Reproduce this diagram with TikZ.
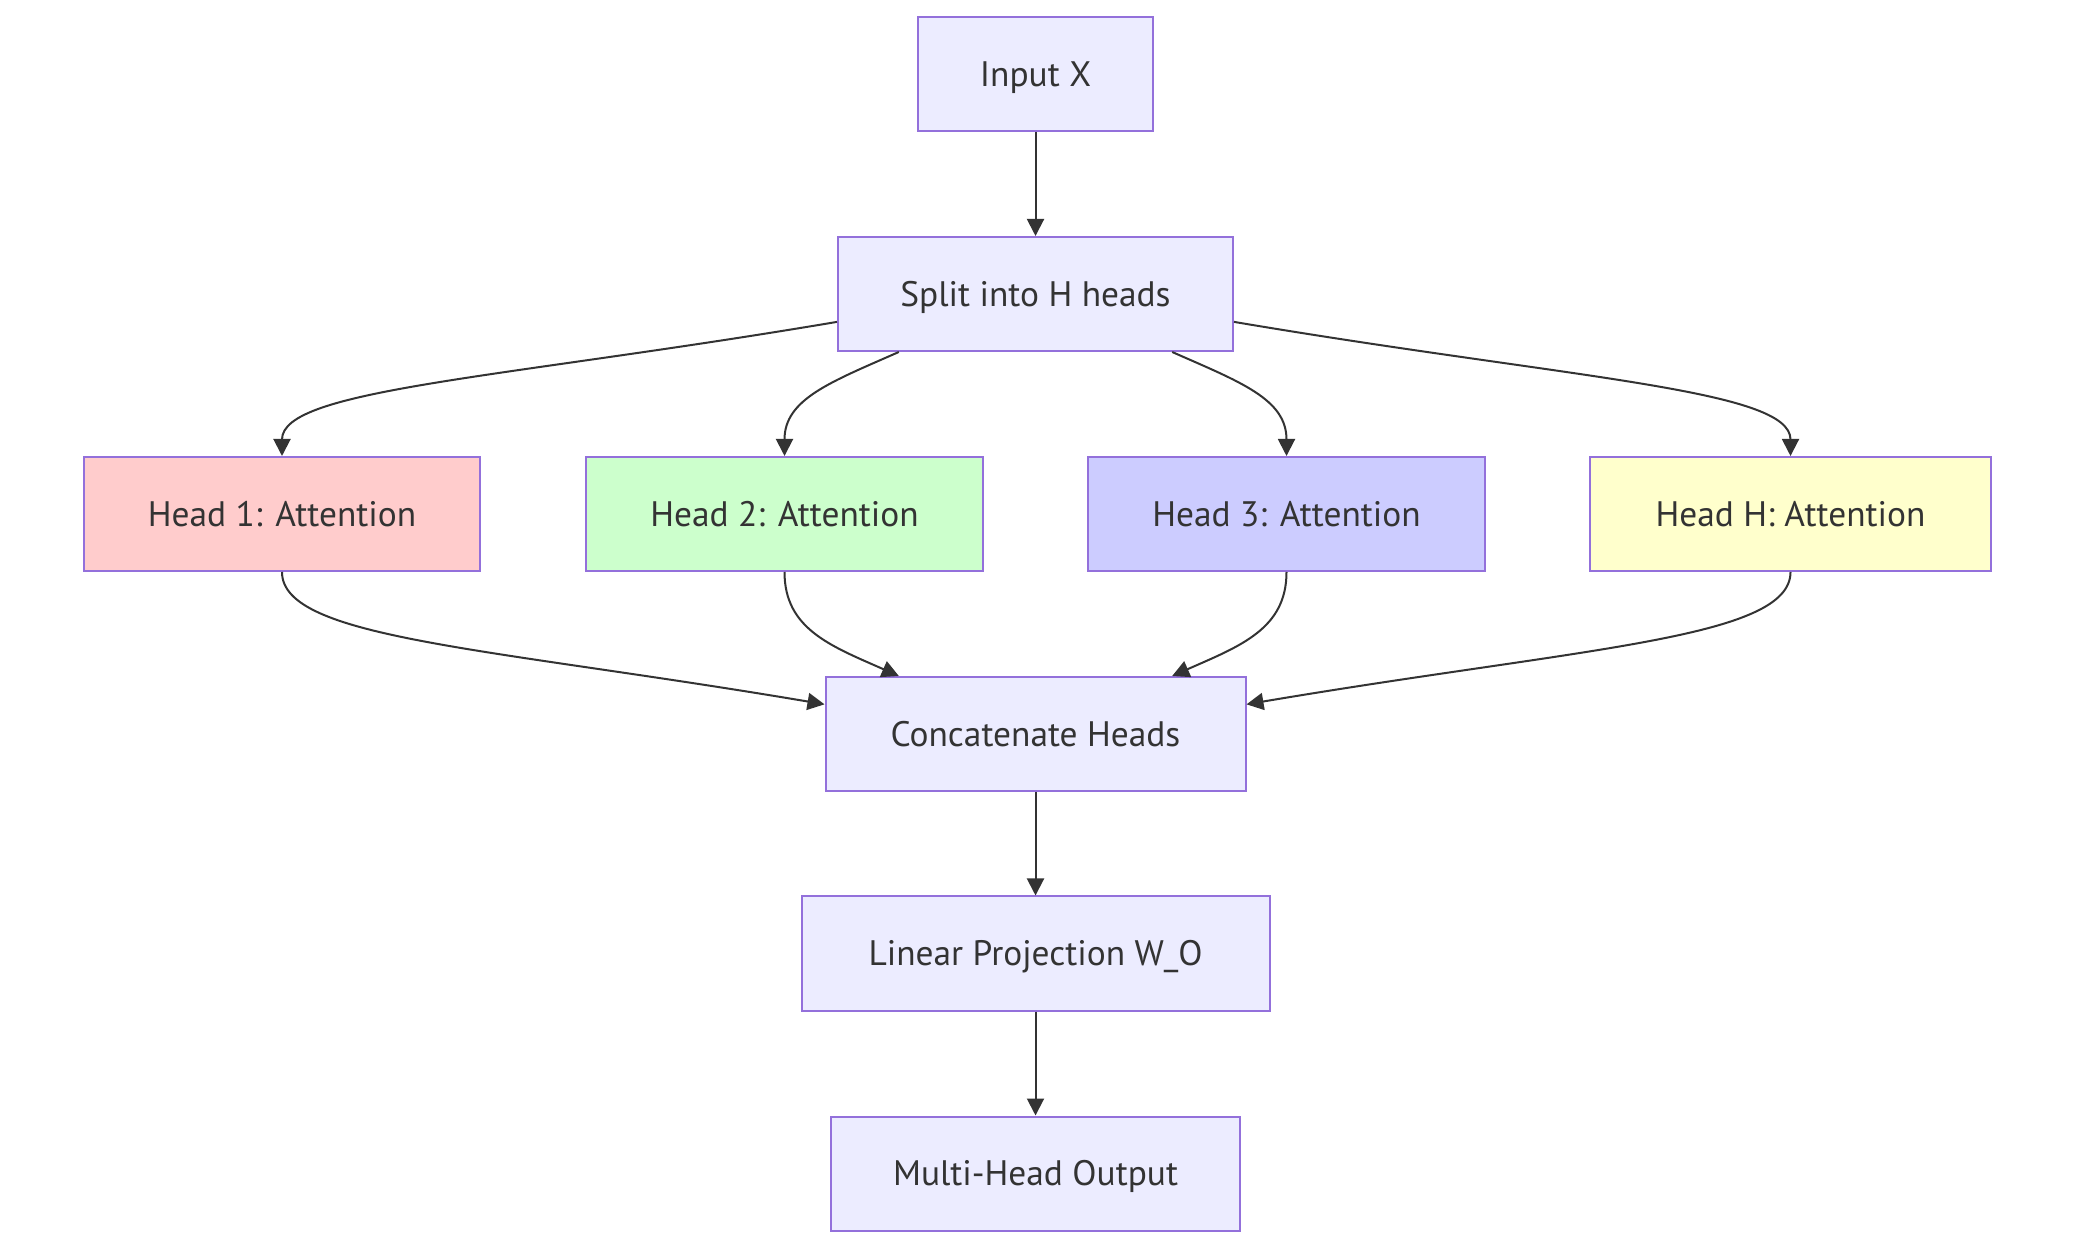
\documentclass[tikz,border=0pt]{standalone}
\usepackage{fontspec}
\setmainfont{PT Sans}
\usetikzlibrary{arrows.meta}
\definecolor{boxfill}{HTML}{ECECFF}
\definecolor{boxline}{HTML}{9370DB}
\definecolor{ink}{HTML}{333333}
\definecolor{hone}{HTML}{FFCCCC}
\definecolor{htwo}{HTML}{CCFFCC}
\definecolor{hthree}{HTML}{CCCCFF}
\definecolor{hfour}{HTML}{FFFFCC}
\tikzset{box/.style={draw=boxline,fill=boxfill,line width=1pt,text=ink,
  minimum height=57pt,inner sep=0pt,text height=14pt,text depth=1.6pt,
  font=\fontsize{17.7}{20}\selectfont},
  link/.style={draw=ink,line width=1pt,-{Triangle[length=8.5pt,width=8.5pt]}}}

\begin{document}
\begin{tikzpicture}[x=0.5pt,y=0.5pt]
\useasboundingbox (0,0) rectangle (2076,1248);
\node[box,minimum width=117.5pt] (X) at (1035.5,1174) {Input X};
\node[box,minimum width=197.5pt] (S) at (1035.5,954) {Split into H heads};
\node[box,minimum width=198pt,fill=hone] (H1) at (282,734) {Head 1: Attention};
\node[box,minimum width=198.5pt,fill=htwo] (H2) at (784.5,734) {Head 2: Attention};
\node[box,minimum width=198.5pt,fill=hthree] (H3) at (1286.5,734) {Head 3: Attention};
\node[box,minimum width=200.5pt,fill=hfour] (HH) at (1790.5,734) {Head H: Attention};
\node[box,minimum width=210pt] (C) at (1035.5,514) {Concatenate Heads};
\node[box,minimum width=234pt] (W) at (1035.5,294.5) {Linear Projection W\_O};
\node[box,minimum width=204.5pt] (Y) at (1035.5,74.5) {Multi-Head Output};
\draw[link] (X) -- (S);
\draw[link] (S.188) .. controls +(-337,-57) and +(0,67) .. (H1.north);
\draw[link] (S.203) .. controls +(-68,-30) and +(0,57) .. (H2.north);
\draw[link] (S.337) .. controls +(68,-30) and +(0,57) .. (H3.north);
\draw[link] (S.352) .. controls +(337,-57) and +(0,67) .. (HH.north);
\draw[link] (H1.south) .. controls +(0,-67) and +(-337,57) .. (C.172);
\draw[link] (H2.south) .. controls +(0,-57) and +(-68,30) .. (C.157);
\draw[link] (H3.south) .. controls +(0,-57) and +(68,30) .. (C.23);
\draw[link] (HH.south) .. controls +(0,-67) and +(337,57) .. (C.8);
\draw[link] (C) -- (W);
\draw[link] (W) -- (Y);
\end{tikzpicture}
\end{document}
